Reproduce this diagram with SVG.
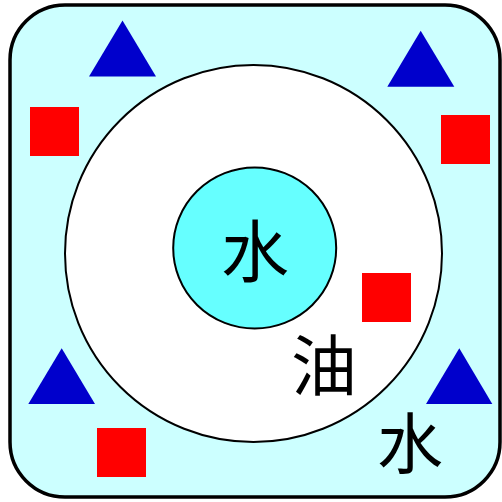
<svg xmlns="http://www.w3.org/2000/svg" width="502" height="502" viewBox="0 0 502 502">
<style>
.tri{fill:#0000cc}
.sq{fill:#ff0000}
.lbl{font-family:"Noto Sans CJK SC","Noto Sans CJK JP",sans-serif;fill:#000;text-anchor:middle}
</style>
<rect id="bg" x="10" y="5" width="490" height="492" rx="55" ry="55" fill="#ccffff" stroke="#000" stroke-width="3.5"/>
<g id="oil">
<circle cx="253.5" cy="253.5" r="188.5" fill="#fff" stroke="#000" stroke-width="2"/>
<text class="lbl" x="324" y="390" font-size="66">油</text>
</g>
<g id="water-core">
<ellipse cx="254.7" cy="248" rx="81.5" ry="80.5" fill="#66ffff" stroke="#000" stroke-width="2"/>
<text class="lbl" x="255" y="277" font-size="68">水</text>
</g>
<g id="water-outer">
<text class="lbl" x="410" y="468" font-size="66">水</text>
</g>
<g id="triangles">
<polygon class="tri" points="122.5,20.5 89,76.5 156,76.5"/>
<polygon class="tri" points="420.7,30.7 387.3,86.7 454.3,86.7"/>
<polygon class="tri" points="61.7,348.3 28.3,404 95,404"/>
<polygon class="tri" points="459.3,348.3 426,404 492.3,404"/>
</g>
<g id="squares">
<rect class="sq" x="30" y="107" width="49" height="49"/>
<rect class="sq" x="441" y="115" width="49" height="49"/>
<rect class="sq" x="97" y="428" width="49" height="49"/>
<rect class="sq" x="362" y="273" width="49" height="49"/>
</g>
</svg>
